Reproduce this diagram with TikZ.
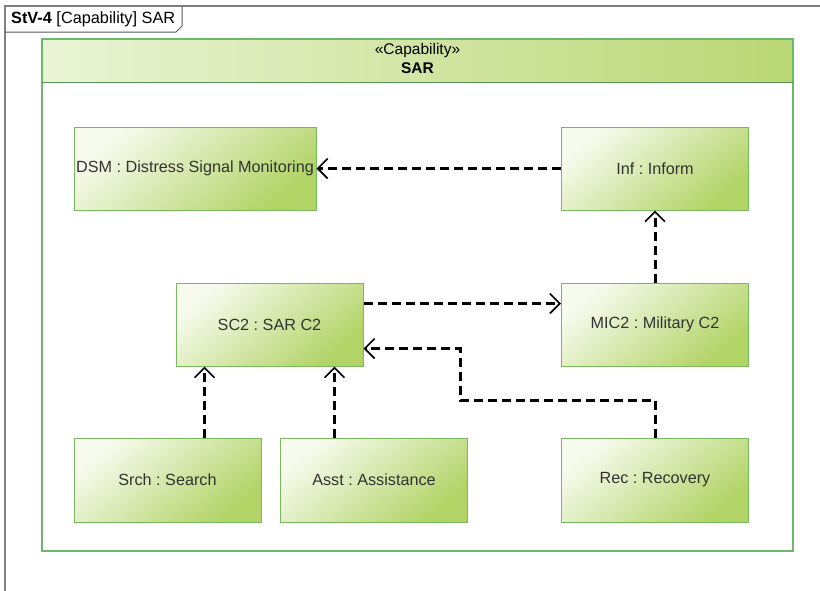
\documentclass[tikz,border=0pt]{standalone}
\usepackage{fontspec}
\setmainfont{Liberation Sans}
\usetikzlibrary{arrows.meta}
\frenchspacing
\definecolor{frameGray}{HTML}{7F7F7F}
\definecolor{capGreen}{HTML}{6DB86D}
\definecolor{boxBorder}{HTML}{79B85F}
\definecolor{boxLight}{HTML}{F7FBEE}
\definecolor{boxGreen}{HTML}{B2D366}
\definecolor{headLight}{HTML}{EAF4D5}
\definecolor{headGreen}{HTML}{BAD774}
\definecolor{textGray}{HTML}{333333}

\begin{document}
\begin{tikzpicture}[x=1pt, y=-1pt, >={Straight Barb[length=10pt,width=20pt,line width=1.7pt]}]

    \clip (0,0) rectangle (820,590);
    \fill[white] (0,0) rectangle (820,590);

    % --- 1. The Diagram Frame ---
    \draw[frameGray, line width=2pt] (5,600) -- (5,6) -- (830,6);
    \draw[frameGray!70!black, line width=1pt] (5,32) -- (176,32) -- (182,26) -- (182,6);
    \node[anchor=west, font=\fontsize{16.3}{18}\selectfont, inner sep=0pt] (title) at (11,19)
        {\textbf{StV-4} [Capability] SAR};


    % --- 2. The Capability ---
    \shade[left color=headLight, right color=headGreen] (42,39) rectangle (793,82);
    \draw[capGreen, line width=1.5pt] (42,39) rectangle (793,551);
    \draw[capGreen!80!black, line width=1pt] (42,82) -- (793,82);
    \node[font=\fontsize{15.5}{17}\selectfont] (capStereo) at (417.5,50.5) {«Capability»};
    \node[font=\fontsize{15.5}{17}\selectfont\bfseries] (capName) at (417.5,68.5) {SAR};


    % --- 3. The Parts ---
    \tikzstyle{part}=[rectangle, draw=boxBorder, line width=1pt, top color=boxLight,
        bottom color=boxGreen, shading angle=40, minimum width=187pt, minimum height=83pt,
        inner sep=0pt, text=textGray, font=\fontsize{16.2}{19}\selectfont]

    % Top row
    \node[part, minimum width=242pt] (dsm) at (195,168.5) {DSM : Distress Signal Monitoring};
    \node[part] (inf) at (655,168.5) {Inf : Inform};

    % Middle row
    \node[part] (sc2) at (269.5,324.5) {SC2 : SAR C2};
    \node[part] (mic2) at (655,324.5) {MIC2 : Military C2};

    % Bottom row
    \node[part, minimum height=84pt] (srch) at (167.5,480) {Srch : Search};
    \node[part, minimum height=84pt] (asst) at (374,480) {Asst : Assistance};
    \node[part, minimum height=84pt] (rec) at (655,480) {Rec : Recovery};


    % --- 4. The Dependencies ---
    \tikzstyle{dep}=[->, black, line width=3pt, dash pattern=on 9pt off 5pt]

    \draw[dep] (inf.west) -- (dsm.east);
    \draw[dep] (mic2.north) -- (inf.south);
    \draw[dep] ([yshift=-21pt]sc2.north east) -- ([yshift=-21pt]sc2.north east -| mic2.west);
    \draw[dep] ([xshift=29pt]sc2.south west |- srch.north) -- ([xshift=29pt]sc2.south west);
    \draw[dep] ([xshift=-29pt]sc2.south east |- asst.north) -- ([xshift=-29pt]sc2.south east);

    \coordinate (recBend) at (460,400);
    \draw[dep] (rec.north) |- (recBend) |- ([yshift=-66pt]sc2.north east);

\end{tikzpicture}
\end{document}
